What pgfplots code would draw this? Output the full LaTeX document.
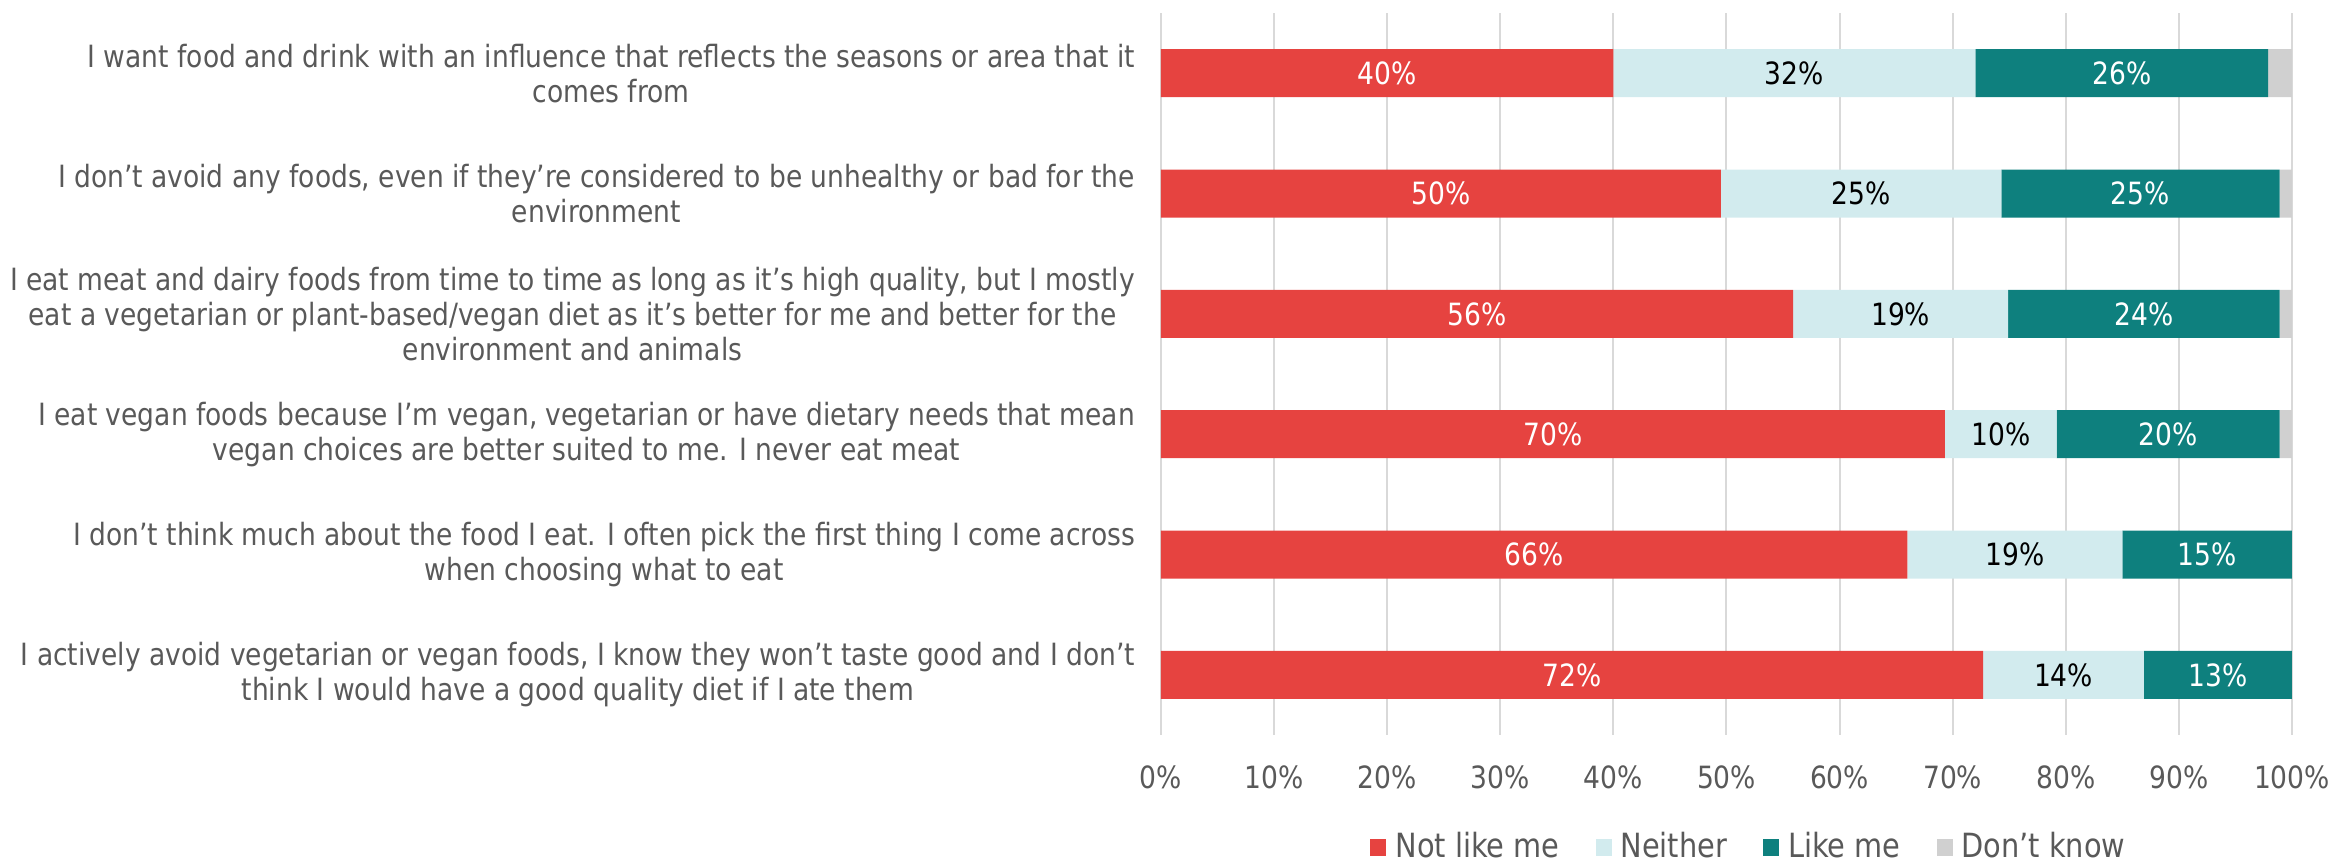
\documentclass[border=0pt]{standalone}
\usepackage{fontspec}
\setmainfont{DejaVu Sans}[FakeStretch=0.865]
\usepackage{pgfplots}
\usepackage{pgfplotstable}
\pgfplotsset{compat=1.18}
\definecolor{cred}{HTML}{E64340}
\definecolor{clight}{HTML}{D2EBEE}
\definecolor{cteal}{HTML}{0E807E}
\definecolor{cgray}{HTML}{D0D0D0}
\definecolor{ctext}{HTML}{595959}
\definecolor{cgrid}{HTML}{D9D9D9}
\pgfplotstableread{
row not neither like dk lnot lneither llike
0 40.0 32.0 25.9 2.1 40 32 26
1 49.5 24.8 24.6 1.1 50 25 25
2 55.9 19.0 24.0 1.1 56 19 24
3 69.3 9.9 19.7 1.1 70 10 20
4 66.0 19.0 15.0 0 66 19 15
5 72.7 14.2 13.1 0 72 14 13
}\datatable
\begin{document}
\begin{tikzpicture}[font=\fontsize{9.2}{10.5}\selectfont]
\begin{axis}[
  at={(0,0)}, anchor=south west,
  scale only axis, width=339.3pt, height=216.6pt,
  xbar stacked, bar width=14.4pt,
  y dir=reverse,
  xmin=0, xmax=100, ymin=-0.5, ymax=5.5,
  xtick={0,10,...,100},
  xticklabels={0\%,10\%,20\%,30\%,40\%,50\%,60\%,70\%,80\%,90\%,100\%},
  ytick={0,1,2,3,4,5},
  yticklabels={
    {I want food and drink with an influence that reflects the seasons or area that it\\comes from},
    {I don’t avoid any foods, even if they’re considered to be unhealthy or bad for the\\environment},
    {I eat meat and dairy foods from time to time as long as it’s high quality, but I mostly\\eat a vegetarian or plant-based/vegan diet as it’s better for me and better for the\\environment and animals},
    {I eat vegan foods because I’m vegan, vegetarian or have dietary needs that mean\\vegan choices are better suited to me. I never eat meat},
    {I don’t think much about the food I eat.  I often pick the first thing I come across\\when choosing what to eat},
    {I actively avoid vegetarian or vegan foods, I know they won’t taste good and I don’t\\think I would have a good quality diet if I ate them}
  },
  yticklabel style={align=center, text=ctext, xshift=-4.3pt},
  xticklabel style={text=ctext, anchor=center, yshift=-12.6pt},
  major tick length=0pt,
  axis line style={draw=none},
  xmajorgrids, grid style={cgrid, line width=0.6pt},
  legend style={at={(axis description cs:0.519,-0.156)}, anchor=center, draw=none, fill=none,
    legend columns=4, text=ctext, font=\fontsize{10}{12}\selectfont,
    nodes={inner xsep=0pt},
    /tikz/every odd column/.style={column sep=2.7pt},
    /tikz/every even column/.style={column sep=10.8pt}},
  legend image code/.code={\fill[#1] (0pt,-2.55pt) rectangle (4.8pt,2.55pt);},
]
\addplot[fill=cred, draw=none, nodes near coords={\pgfplotspointmeta\%}, point meta=explicit symbolic,
  every node near coord/.append style={text=white, anchor=center}]
  table[x=not, y=row, meta=lnot] {\datatable};
\addlegendentry{Not like me}
\addplot[fill=clight, draw=none, nodes near coords={\pgfplotspointmeta\%}, point meta=explicit symbolic,
  every node near coord/.append style={text=black, anchor=center}]
  table[x=neither, y=row, meta=lneither] {\datatable};
\addlegendentry{Neither}
\addplot[fill=cteal, draw=none, nodes near coords={\pgfplotspointmeta\%}, point meta=explicit symbolic,
  every node near coord/.append style={text=white, anchor=center}]
  table[x=like, y=row, meta=llike] {\datatable};
\addlegendentry{Like me}
\addplot[fill=cgray, draw=none] table[x=dk, y=row] {\datatable};
\addlegendentry{Don’t know}
\end{axis}
\pgfresetboundingbox
\path (-348.3pt,-39pt) rectangle (350.1pt,220.5pt);
\end{tikzpicture}
\end{document}
